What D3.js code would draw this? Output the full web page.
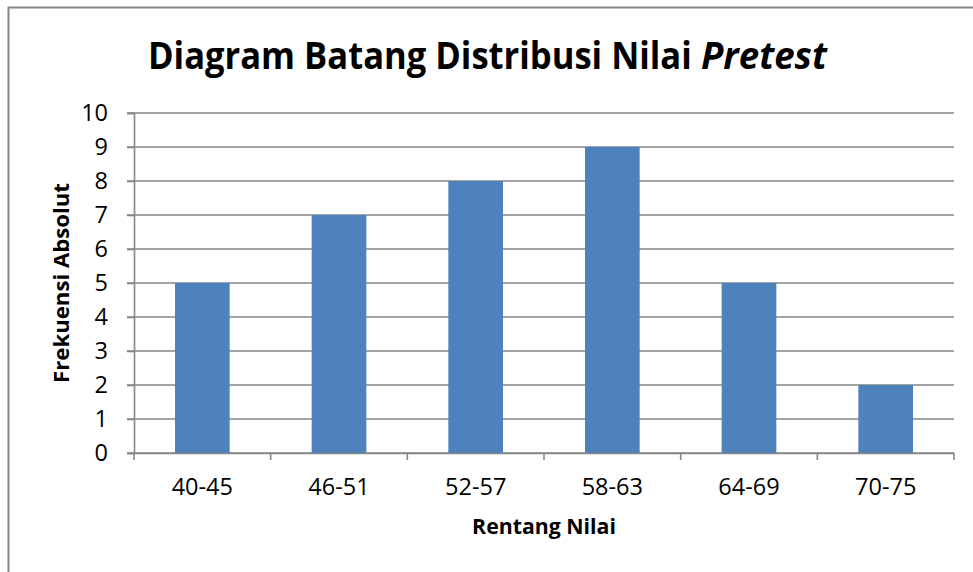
<!DOCTYPE html>
<html>
<head>
  <meta charset="utf-8">
  <title>Diagram Batang Distribusi Nilai Pretest</title>
  <script src="https://cdnjs.cloudflare.com/ajax/libs/d3/7.8.5/d3.min.js"></script>
  <style>
    body { margin: 0; background: #fff; }
    svg { display: block; font-family: "Open Sans", sans-serif; }
  </style>
</head>
<body>
  <svg id="chart"></svg>
  <script>
    // data
    const categories = ["40-45", "46-51", "52-57", "58-63", "64-69", "70-75"];
    const frekuensi = [5, 7, 8, 9, 5, 2];
    const yTicks = [0, 1, 2, 3, 4, 5, 6, 7, 8, 9, 10];

    const width = 973, height = 572;
    const margin = { top: 113, right: 19, bottom: 119, left: 134 };
    const innerW = width - margin.left - margin.right;
    const innerH = height - margin.top - margin.bottom;
    const gray = "#868686";

    const svg = d3.select("#chart")
      .attr("width", width)
      .attr("height", height);

    // squeeze a text horizontally so it spans the given width (Calibri is narrower than Open Sans)
    function fitWidth(sel, x, y, w, rotate) {
      const natural = sel.node().getComputedTextLength();
      const k = w / natural;
      sel.attr("transform", `translate(${x},${y})${rotate ? " rotate(-90)" : ""} scale(${k},1)`);
    }

    // chart frame (only top/left visible in the crop)
    svg.append("rect")
      .attr("x", 8.5).attr("y", 7.5)
      .attr("width", width + 20).attr("height", height + 20)
      .attr("fill", "none")
      .attr("stroke", gray)
      .attr("stroke-width", 2);

    const g = svg.append("g")
      .attr("transform", `translate(${margin.left},${margin.top})`);

    const x = d3.scaleBand()
      .domain(categories)
      .range([0, innerW])
      .paddingInner(0.6)
      .paddingOuter(0.3);

    const xEdge = d3.scaleLinear()
      .domain([0, categories.length])
      .range([0, innerW]);

    const y = d3.scaleLinear()
      .domain([0, 10])
      .range([innerH, 0]);

    // horizontal gridlines, starting at the outer tick
    g.append("g")
      .selectAll("line")
      .data(yTicks)
      .join("line")
      .attr("x1", -7)
      .attr("x2", innerW)
      .attr("y1", d => y(d))
      .attr("y2", d => y(d))
      .attr("stroke", gray)
      .attr("stroke-width", 1.6);

    // bars
    g.append("g")
      .selectAll("rect")
      .data(frekuensi)
      .join("rect")
      .attr("x", (d, i) => x(categories[i]))
      .attr("y", d => y(d))
      .attr("width", x.bandwidth())
      .attr("height", d => y(0) - y(d))
      .attr("fill", "#4f81bd");

    // y axis
    const gy = g.append("g")
      .call(d3.axisLeft(y).tickValues(yTicks).tickSize(7).tickPadding(19));
    gy.selectAll("line, path").attr("stroke", gray).attr("stroke-width", 1.6);
    gy.selectAll("text")
      .attr("font-size", 23.5)
      .attr("fill", "#000")
      .attr("font-family", "Open Sans, sans-serif");

    // x axis (labels centred, ticks on category boundaries)
    const gx = g.append("g")
      .attr("transform", `translate(0,${innerH})`)
      .call(d3.axisBottom(x).tickSize(0).tickPadding(25));
    gx.select(".domain").attr("stroke", gray).attr("stroke-width", 1.6);
    gx.selectAll("text")
      .attr("font-size", 23.5)
      .attr("fill", "#000")
      .attr("font-family", "Open Sans, sans-serif");

    g.append("g")
      .selectAll("line")
      .data(d3.range(categories.length + 1))
      .join("line")
      .attr("x1", d => xEdge(d))
      .attr("x2", d => xEdge(d))
      .attr("y1", innerH)
      .attr("y2", innerH + 7)
      .attr("stroke", gray)
      .attr("stroke-width", 1.6);

    // title, in two pieces so the italic word keeps its own width
    const t1 = svg.append("text")
      .attr("font-size", 37)
      .attr("font-weight", "bold")
      .text("Diagram Batang Distribusi Nilai");
    fitWidth(t1, 148, 69, 544);
    const t2 = svg.append("text")
      .attr("font-size", 37)
      .attr("font-weight", "bold")
      .attr("font-style", "italic")
      .text("Pretest");
    fitWidth(t2, 701, 69, 126);

    // axis titles
    const xt = svg.append("text")
      .attr("text-anchor", "middle")
      .attr("font-size", 21.5)
      .attr("font-weight", "bold")
      .text("Rentang Nilai");
    fitWidth(xt, margin.left + innerW / 2, 534, 144);

    const yt = svg.append("text")
      .attr("text-anchor", "middle")
      .attr("font-size", 21.5)
      .attr("font-weight", "bold")
      .text("Frekuensi Absolut");
    fitWidth(yt, 69, margin.top + innerH / 2, 200, true);
  </script>
</body>
</html>
